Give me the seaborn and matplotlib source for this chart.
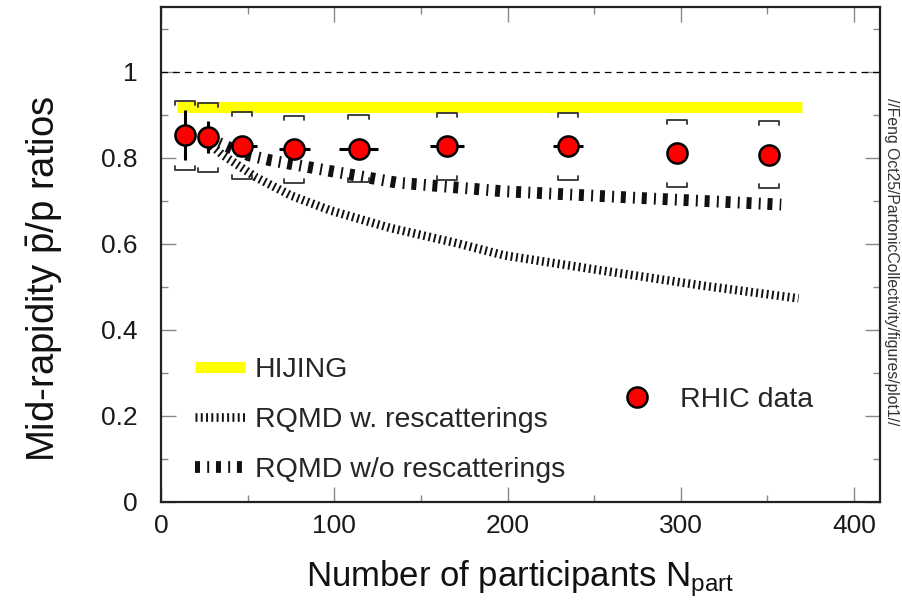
import matplotlib
matplotlib.use("Agg")
import matplotlib.pyplot as plt
from matplotlib.lines import Line2D
from matplotlib.ticker import MultipleLocator, FixedLocator, FixedFormatter
import numpy as np
import pandas as pd
import seaborn as sns

# ---- data -------------------------------------------------------------
npart = [14, 27, 47, 77, 114, 165, 235, 298, 351]
npart_err = [5, 5, 8.4, 9.0, 11.0, 9.8, 8.7, 5, 5]
ratio = [0.852, 0.847, 0.828, 0.819, 0.821, 0.826, 0.826, 0.810, 0.807]
stat_err = [0.058, 0.037, 0.01, 0.01, 0.01, 0.01, 0.01, 0.01, 0.01]
sys_err = [0.080, 0.080, 0.078, 0.078, 0.077, 0.078, 0.078, 0.078, 0.078]

hijing_npart = [9, 370]
hijing_ratio = [0.918, 0.918]

rqmd_w_npart = [27, 36, 55, 75, 98, 132, 171, 198, 254, 312, 368]
rqmd_w_ratio = [0.835, 0.805, 0.754, 0.712, 0.677, 0.637, 0.601, 0.573, 0.538, 0.503, 0.473]

rqmd_wo_npart = [27, 41, 51, 63, 99, 136, 197, 283, 358]
rqmd_wo_ratio = [0.845, 0.821, 0.805, 0.794, 0.768, 0.742, 0.722, 0.705, 0.691]

ytick_vals = [0, 0.2, 0.4, 0.6, 0.8, 1.0]
ytick_text = ["0", "0.2", "0.4", "0.6", "0.8", "1"]
xtick_vals = [0, 100, 200, 300, 400]

# ---- style ------------------------------------------------------------
sns.set_theme(style="ticks")
plt.rcParams["font.family"] = ["Liberation Sans", "DejaVu Sans"]
plt.rcParams["mathtext.fontset"] = "custom"
plt.rcParams["mathtext.rm"] = "Liberation Sans"
plt.rcParams["mathtext.it"] = "Liberation Sans"
plt.rcParams["lines.scale_dashes"] = False

fig = plt.figure(figsize=(9.02, 6.13), dpi=100)
ax = fig.add_axes([0.1785, 0.1811, 0.7971, 0.8075])

ax.set_xlim(0, 415)
ax.set_ylim(0, 1.15)

# reference line at unity
ax.axhline(1.0, color="black", lw=0.9, ls=(0, (4.8, 3.6)), zorder=1)

# HIJING band
sns.lineplot(x=hijing_npart, y=hijing_ratio, ax=ax, color="#ffff00", lw=8,
             solid_capstyle="butt", zorder=2, label="HIJING")

# RQMD curves
sns.lineplot(x=rqmd_w_npart, y=rqmd_w_ratio, ax=ax, color="#111111", lw=6.2,
             linestyle=(0, (1.4, 2.4)), dash_capstyle="butt", zorder=3,
             label="RQMD w. rescatterings")
sns.lineplot(x=rqmd_wo_npart, y=rqmd_wo_ratio, ax=ax, color="#111111", lw=8.5,
             linestyle=(0, (3.6, 5.2, 1.4, 4.9)), dash_capstyle="butt", zorder=3,
             label="RQMD w/o rescatterings")

# systematic brackets
half_w = 5.8
tick_h = 0.009
for xi, yi, si in zip(npart, ratio, sys_err):
    top = yi + si
    bot = yi - si
    ax.plot([xi - half_w, xi - half_w, xi + half_w, xi + half_w],
            [top - tick_h, top, top, top - tick_h], color="#333333", lw=1.3, zorder=4)
    ax.plot([xi - half_w, xi - half_w, xi + half_w, xi + half_w],
            [bot + tick_h, bot, bot, bot + tick_h], color="#333333", lw=1.3, zorder=4)

# statistical errors
ax.errorbar(npart, ratio, xerr=npart_err, yerr=stat_err, fmt="none",
            ecolor="black", elinewidth=2.2, capsize=0, zorder=5)

# data points
df = pd.DataFrame({"npart": npart, "ratio": ratio})
sns.scatterplot(data=df, x="npart", y="ratio", ax=ax, s=14.5 ** 2,
                color="#ff0000", edgecolor="black", linewidth=1.8, zorder=6,
                label="RHIC data", legend=False)

# ---- axes cosmetics ---------------------------------------------------
for sp in ax.spines.values():
    sp.set_visible(True)
    sp.set_color("#222222")
    sp.set_linewidth(1.6)

ax.xaxis.set_major_locator(FixedLocator(xtick_vals))
ax.xaxis.set_minor_locator(MultipleLocator(50))
ax.yaxis.set_major_locator(FixedLocator(ytick_vals))
ax.yaxis.set_major_formatter(FixedFormatter(ytick_text))
ax.yaxis.set_minor_locator(MultipleLocator(0.1))

ax.tick_params(which="both", direction="in", top=True, right=True,
               color="#888888", width=1.0)
ax.tick_params(which="major", length=11)
ax.tick_params(which="minor", length=5)
ax.tick_params(axis="y", which="major", labelsize=19, pad=17, labelcolor="#1a1a1a")
ax.tick_params(axis="x", which="major", labelsize=19, pad=9, labelcolor="#1a1a1a")

ax.set_xlabel(r"Number of participants N$_{\mathregular{part}}$", fontsize=25,
              color="#111111")
ax.set_ylabel(r"Mid-rapidity $\mathregular{\bar{p}}$/p ratios", fontsize=27.5,
              color="#111111")
ax.xaxis.set_label_coords(0.5, -0.113)
ax.yaxis.set_label_coords(-0.134, 0.45)

# ---- legends ----------------------------------------------------------
handles, labels = ax.get_legend_handles_labels()
model_handles = [h for h, l in zip(handles, labels) if l != "RHIC data"]
model_labels = [l for l in labels if l != "RHIC data"]
leg1 = ax.legend(model_handles, model_labels, loc="lower left",
                 bbox_to_anchor=(0.047, 0.038), frameon=False, fontsize=20.5,
                 handlelength=1.75, handletextpad=0.35, labelspacing=0.84,
                 borderpad=0, borderaxespad=0)
ax.add_artist(leg1)

data_handle = Line2D([], [], ls="none", marker="o", markersize=14.5,
                     markerfacecolor="#ff0000", markeredgecolor="black",
                     markeredgewidth=1.8)
ax.legend([data_handle], ["RHIC data"], loc="lower left",
          bbox_to_anchor=(0.642, 0.18), frameon=False, fontsize=20.5,
          handlelength=1.0, handletextpad=1.01, borderpad=0, borderaxespad=0)

# file path stamp on the right edge
fig.text(0.988, 0.573, "//Feng Oct25/PartonicCollectivity/figures/plot1//",
         rotation=270, ha="center", va="center", fontsize=11.3, color="#333333")

fig.savefig("out.png", dpi=100)
